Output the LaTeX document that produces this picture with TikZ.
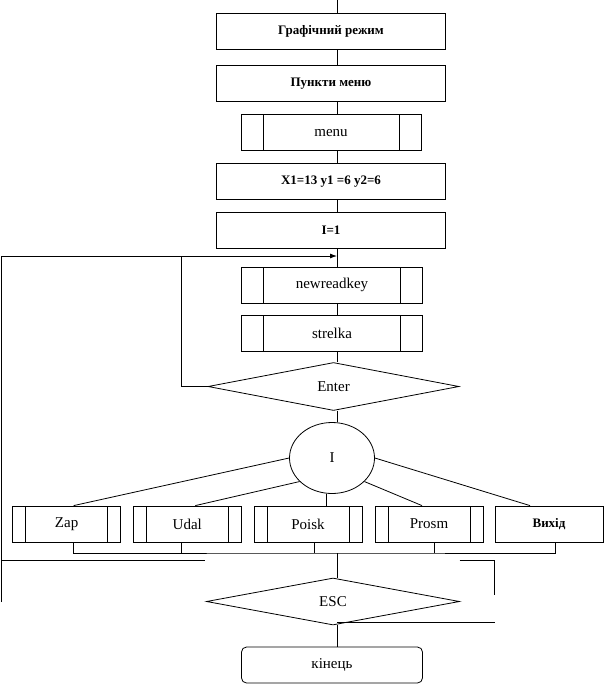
\documentclass[tikz,border=0pt]{standalone}
\usepackage{fontspec}
\setmainfont{Liberation Serif}
\usetikzlibrary{shapes.geometric, positioning, arrows.meta}
\tikzset{>={Latex[length=7pt, width=5pt]}}
\tikzset{
  stepbox/.style={draw, minimum width=229pt, minimum height=36pt, inner sep=0pt,
    font=\bfseries\fontsize{13}{15}\selectfont},
  subbox/.style={draw, minimum height=36pt, inner sep=0pt,
    font=\fontsize{15}{17}\selectfont,
    path picture={
      \draw ([xshift=#1]path picture bounding box.north west) -- ([xshift=#1]path picture bounding box.south west);
      \draw ([xshift=-#1]path picture bounding box.north east) -- ([xshift=-#1]path picture bounding box.south east);
    }},
  choice/.style={draw, diamond, inner sep=0pt, font=\fontsize{15}{17}\selectfont},
}

\begin{document}
\begin{tikzpicture}[x=1pt, y=-1pt, line width=0.8pt]
            \useasboundingbox (0,0) rectangle (604,686);
            % main column
            \node[stepbox] (graph) at (331,31) {Графічний режим};
            \node[stepbox, below=16pt of graph] (items) {Пункти меню};
            \node[subbox=22pt, minimum width=180pt, below=12pt of items] (menu) {menu};
            \node[stepbox, below=12pt of menu] (init) {X1=13 y1 =6 y2=6};
            \node[stepbox, below=12pt of init] (ione) {I=1};
            \node[subbox=22pt, minimum width=181pt] (readkey) at (332,285) {newreadkey};
            \node[subbox=22pt, minimum width=181pt, below=12pt of readkey] (arrow) {strelka};
            \node[choice, minimum width=251pt, minimum height=48pt] (enter) at (333.5,386.5) {Enter};
            \node[draw, ellipse, minimum width=85pt, minimum height=71pt, inner sep=0pt,
                  font=\fontsize{15}{17}\selectfont] (select) at (332,458) {I};
            % row of cases
            \node[subbox=13pt, minimum width=108pt] (zap) at (66.6,524) {Zap};
            \node[subbox=13pt, minimum width=108pt] (udal) at (187.3,524) {Udal};
            \node[subbox=13pt, minimum width=108pt] (poisk) at (308,524) {Poisk};
            \node[subbox=13pt, minimum width=108pt] (prosm) at (429,524) {Prosm};
            \node[draw, minimum width=108pt, minimum height=36pt, inner sep=0pt,
                  font=\bfseries\fontsize{13}{15}\selectfont] (exit) at (549,524) {Вихід};
            \node[choice, minimum width=253pt, minimum height=47pt] (esc) at (333,601.5) {ESC};
            \node[draw, rounded corners=5pt, minimum width=181pt, minimum height=36pt,
                  font=\fontsize{15}{17}\selectfont] (finish) at (332,665) {кінець};
            % helper points
            \coordinate (spine) at (337,0);
            \coordinate (loop-in) at (337,256);
            \coordinate (enter-back) at (181,256);
            \coordinate (outer-end) at (1,602);
            \coordinate (outer-mid) at (1,560);
            \coordinate (stub-left) at (205,560);
            \coordinate (stub-right) at (459.5,560);
            \coordinate (right-down) at (494,595);
            \coordinate (collect) at (337,553);
            \coordinate (esc-out) at (495,622);
            \coordinate[right=7pt of zap.north] (zap-in);
            \coordinate[right=8pt of udal.north] (udal-in);
            \coordinate[left=6pt of select.south] (poisk-from);
            \coordinate[left=7pt of prosm.north] (prosm-in);
            \coordinate[left=19pt of exit.north] (exit-in);
            \coordinate[right=7pt of zap.south] (zap-out);
            \coordinate[left=6pt of udal.south] (udal-out);
            \coordinate[right=6pt of poisk.south] (poisk-out);
            \coordinate[right=5pt of prosm.south] (prosm-out);
            \coordinate[right=6.5pt of exit.south] (exit-out);
            % connectors
            \draw (spine) -- (spine |- graph.north);
            \draw (spine |- graph.south) -- (spine |- items.north);
            \draw (spine |- items.south) -- (spine |- menu.north);
            \draw (spine |- menu.south) -- (spine |- init.north);
            \draw (spine |- init.south) -- (spine |- ione.north);
            \draw (spine |- ione.south) -- (spine |- readkey.north);
            \draw (spine |- readkey.south) -- (spine |- arrow.north);
            \draw (spine |- arrow.south) -- (spine |- enter.north);
            \draw (enter.west) -| (enter-back);
            \draw[->] (outer-end) |- (loop-in);
            \draw (spine |- enter.south) -- (spine |- select.north);
            \draw (select.west) -- (zap-in);
            \draw (select.216) -- (udal-in);
            \draw (poisk-from) -- (poisk-from |- poisk.north);
            \draw (select.324) -- (prosm-in);
            \draw (select.east) -- (exit-in);
            \draw (zap-out) |- (collect) -| (exit-out);
            \draw (udal-out) -- (udal-out |- collect);
            \draw (poisk-out) -- (poisk-out |- collect);
            \draw (prosm-out) -- (prosm-out |- collect);
            \draw (collect) -- (spine |- esc.north);
            \draw (outer-mid) -- (stub-left);
            \draw (stub-right) -| (right-down);
            \draw (spine |- esc-out) -- (esc-out);
            \draw (spine |- esc.south) -- (spine |- finish.north);
        \end{tikzpicture}
\end{document}
